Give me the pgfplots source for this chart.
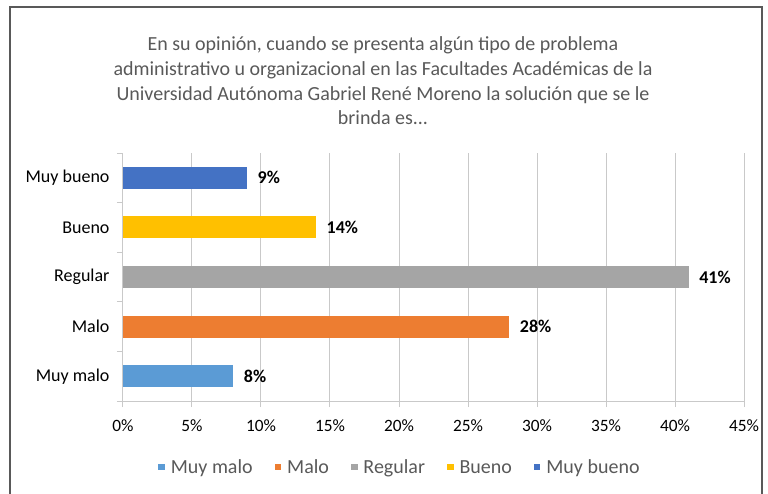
\documentclass[border=0pt]{standalone}
\usepackage{fontspec}
\setmainfont{Carlito}
\usepackage{pgfplots}
\pgfplotsset{compat=1.18}

\definecolor{cMuyMalo}{HTML}{5B9BD5}
\definecolor{cMalo}{HTML}{ED7D31}
\definecolor{cRegular}{HTML}{A5A5A5}
\definecolor{cBueno}{HTML}{FFC000}
\definecolor{cMuyBueno}{HTML}{4472C4}
\definecolor{gridgray}{HTML}{C9C9C9}
\definecolor{txtgray}{HTML}{595959}

\begin{document}
\begin{tikzpicture}
\path[use as bounding box] (-123bp,-93bp) rectangle (645bp,401bp);
\draw[black!65, line width=1.2bp] (-113bp,-120bp) rectangle (639bp,394bp);
\node[align=center, text=txtgray, font=\fontsize{20bp}{24.7bp}\selectfont] at (260bp,320bp)
  {En su opinión, cuando se presenta algún tipo de problema\\
   administrativo u organizacional en las Facultades Académicas de la\\
   Universidad Autónoma Gabriel René Moreno la solución que se le\\
   brinda es...};
\begin{axis}[
  at={(0,0)}, anchor=south west,
  scale only axis, width=621bp, height=248bp,
  xmin=0, xmax=45, ymin=0.5, ymax=5.5,
  xbar, bar width=22bp, bar shift=0pt,
  axis x line*=bottom, axis y line*=left,
  axis line style={draw=gridgray, line width=1bp},
  xtick={0,5,...,45},
  xticklabels={0\%,5\%,10\%,15\%,20\%,25\%,30\%,35\%,40\%,45\%},
  xticklabel style={font=\fontsize{17.3bp}{20bp}\selectfont, text=black, yshift=-9bp},
  xmajorgrids, grid style={gridgray, line width=1bp},
  tick align=outside, major tick length=6bp,
  tick style={gridgray, line width=1bp},
  ytick={0.5,1.5,2.5,3.5,4.5,5.5}, yticklabels={},
  extra y ticks={1,2,3,4,5},
  extra y tick labels={Muy malo,Malo,Regular,Bueno,Muy bueno},
  extra y tick style={major tick length=0pt,
    yticklabel style={font=\fontsize{18bp}{20bp}\selectfont, text=black, xshift=-10bp}},
  /pgf/number format/assume math mode=true,
  point meta=x,
  nodes near coords={\pgfmathprintnumber{\pgfplotspointmeta}\%},
  nodes near coords style={font=\fontsize{18bp}{20bp}\selectfont\bfseries, text=black, anchor=west, xshift=7bp},
  legend columns=5,
  legend style={at={(0.446,-0.282)}, anchor=center, draw=none, fill=none,
    font=\fontsize{20bp}{23bp}\selectfont, text=txtgray,
    nodes={text height=0.7em, text depth=0.22em},
    /tikz/every odd column/.append style={column sep=4bp},
    /tikz/every even column/.append style={column sep=20bp}},
  legend image code/.code={\fill[#1] (0bp,1bp) rectangle (6.5bp,7.5bp);},
]
\addplot[fill=cMuyMalo, draw=none] coordinates {(8,1)};
\addlegendentry{Muy malo}
\addplot[fill=cMalo, draw=none] coordinates {(28,2)};
\addlegendentry{Malo}
\addplot[fill=cRegular, draw=none] coordinates {(41,3)};
\addlegendentry{Regular}
\addplot[fill=cBueno, draw=none] coordinates {(14,4)};
\addlegendentry{Bueno}
\addplot[fill=cMuyBueno, draw=none] coordinates {(9,5)};
\addlegendentry{Muy bueno}
\end{axis}
\end{tikzpicture}
\end{document}
